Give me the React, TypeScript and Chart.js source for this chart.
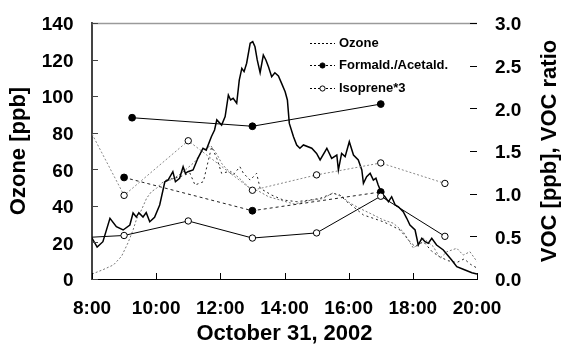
import React, { useEffect, useRef } from 'react';
import { Chart, registerables } from 'chart.js';

Chart.register(...registerables);

const FONT = '"Liberation Sans", Arial, Helvetica, sans-serif';

// ---- axis ticks / labels ----
const xTickHours = [8, 10, 12, 14, 16, 18, 20];
const xTickLabels = ['8:00', '10:00', '12:00', '14:00', '16:00', '18:00', '20:00'];
const xTitle = 'October 31, 2002';
const yLeftTitle = 'Ozone [ppb]';
const yRightTitle = 'VOC [ppb], VOC ratio';
const legendLabels = ['Ozone', 'Formald./Acetald.', 'Isoprene*3'];

// ---- high resolution ozone, solid line (ppb) ----
const ozoneSolidTimes = [8.00, 8.16, 8.34, 8.56, 8.76, 8.97, 9.18, 9.28, 9.38, 9.46, 9.59, 9.69, 9.80, 9.95, 10.11, 10.27, 10.37, 10.52, 10.60, 10.73, 10.84, 10.91, 10.99, 11.15, 11.30, 11.46, 11.56, 11.72, 11.82, 11.89, 12.04, 12.15, 12.25, 12.32, 12.40, 12.51, 12.59, 12.67, 12.74, 12.82, 12.93, 13.01, 13.08, 13.15, 13.24, 13.34, 13.42, 13.50, 13.60, 13.70, 13.81, 13.91, 14.02, 14.09, 14.15, 14.28, 14.38, 14.48, 14.59, 14.85, 15.00, 15.11, 15.32, 15.47, 15.63, 15.68, 15.78, 15.89, 16.02, 16.15, 16.30, 16.41, 16.46, 16.56, 16.67, 16.77, 16.85, 16.92, 17.03, 17.13, 17.24, 17.34, 17.45, 17.55, 17.70, 17.81, 17.91, 18.07, 18.17, 18.28, 18.38, 18.48, 18.59, 18.74, 18.95, 19.21, 19.37, 19.57, 19.84, 20.00];
const ozoneSolidValues = [22.4, 17.5, 20.4, 33.2, 28.6, 26.8, 29.5, 36.1, 33.9, 36.3, 33.9, 36.3, 31.3, 33.7, 40.5, 53.2, 54.1, 58.7, 53.2, 55.1, 61.4, 57.8, 58.7, 59.6, 66.0, 71.5, 70.5, 77.8, 81.5, 87.0, 84.2, 88.8, 100.6, 97.9, 98.8, 96.1, 108.8, 115.2, 113.4, 118.0, 128.9, 129.8, 127.0, 119.8, 112.8, 122.5, 119.8, 116.1, 110.6, 112.8, 111.0, 107.0, 102.4, 97.9, 85.1, 77.8, 73.3, 71.5, 73.3, 71.5, 68.7, 65.1, 71.5, 66.0, 67.8, 59.6, 68.7, 66.9, 75.1, 67.8, 65.1, 59.6, 52.3, 55.9, 57.8, 54.1, 55.1, 51.4, 46.9, 45.0, 42.3, 45.0, 40.5, 39.5, 36.8, 33.2, 29.5, 26.8, 18.6, 22.3, 20.4, 19.5, 22.3, 18.6, 15.9, 10.4, 6.7, 5.3, 3.4, 2.7];

// ---- high resolution ozone, dotted line (ppb) ----
const ozoneDotTimes = [8.0, 8.33, 8.67, 8.92, 9.12, 9.28, 9.38, 9.54, 9.70, 9.85, 10.01, 10.16, 10.32, 10.47, 10.8, 11.0, 11.2, 11.45, 11.7, 11.9, 12.05, 12.2, 12.4, 12.6, 12.9, 13.2, 13.5, 13.9, 14.3, 14.8, 15.2, 15.5, 15.8, 16.0, 16.3, 16.67, 17.08, 17.39, 17.70, 18.02, 18.33, 18.64, 18.85, 19.06, 19.37, 19.57, 19.78, 20.0];
const ozoneDotValues = [2.7, 5, 7.7, 12.4, 19.7, 26.8, 32.3, 37.7, 44.1, 47.7, 49.6, 52.3, 54.1, 54.1, 58, 61, 64, 70, 73, 68, 63, 60, 58, 55, 50, 48, 45, 43, 41, 43, 44, 47, 45, 42, 39, 35.9, 32.3, 30.5, 25.9, 16.8, 22.3, 17.7, 11.3, 14.9, 16.8, 13.1, 14.9, 9.5];

// ---- high resolution ozone, dashed line (ppb) ----
const ozoneDashTimes = [10.3, 10.74, 11.05, 11.21, 11.47, 11.63, 11.73, 11.89, 12.04, 12.25, 12.40, 12.61, 12.72, 12.93, 13.13, 13.24, 13.60, 13.96, 14.38, 14.80, 15.11, 15.52, 15.73, 15.94, 16.15, 16.46, 16.8, 17.08, 17.3, 17.6, 17.91, 18.07, 18.33, 18.6, 18.85, 19.1, 19.37, 19.6, 19.8, 20.0];
const ozoneDashValues = [54, 55.9, 58, 51.4, 53.2, 65.1, 72.3, 66.0, 57.8, 58.7, 56.9, 61.4, 57.8, 54.1, 57.8, 49.6, 45.9, 43.2, 42.3, 43.2, 44.1, 46.9, 45.9, 42.3, 39.5, 35, 33, 31.3, 29.5, 26.8, 20.4, 17.7, 20.4, 15, 12, 10, 9, 11, 8, 6];

// ---- VOC samples (right axis) ----
const formSolidTimes = [9.25, 13, 17];
const formSolidValues = [1.89, 1.79, 2.05];
const formDotTimes = [9, 13, 17];
const formDotValues = [1.19, 0.80, 1.02];
const isoDotTimes = [8, 9, 11, 13, 15, 17, 19];
const isoDotValues = [1.70, 0.98, 1.62, 1.04, 1.22, 1.36, 1.12];
const isoSolidTimes = [8, 9, 11, 13, 15, 17, 19];
const isoSolidValues = [0.49, 0.51, 0.68, 0.48, 0.54, 0.97, 0.50];

const pts = (t: number[], v: number[]) => t.map((x, i) => ({ x, y: v[i] }));
const firstHidden = (n: number, r: number) => Array.from({ length: n }, (_, i) => (i === 0 ? 0 : r));

type LegendSpec = { label: string; color: string; dash: number[]; marker: 'none' | 'filled' | 'open' };
const legendSpecs: LegendSpec[] = [
  { label: legendLabels[0], color: '#000', dash: [2, 2], marker: 'none' },
  { label: legendLabels[1], color: '#000', dash: [2, 2], marker: 'filled' },
  { label: legendLabels[2], color: '#000', dash: [2, 2], marker: 'open' },
];

const decorPlugin = {
  id: 'decor',
  afterDraw(chart: any) {
    const { ctx, chartArea: ca, scales } = chart;
    const line = (x1: number, y1: number, x2: number, y2: number) => {
      ctx.beginPath();
      ctx.moveTo(x1, y1);
      ctx.lineTo(x2, y2);
      ctx.stroke();
    };
    ctx.save();
    // top frame line
    ctx.strokeStyle = '#9a9a9a';
    ctx.lineWidth = 1.5;
    line(ca.left, ca.top + 0.5, ca.right, ca.top + 0.5);
    // x ticks (inward)
    ctx.strokeStyle = '#000';
    ctx.lineWidth = 1;
    xTickHours.forEach((h) => {
      const px = Math.round(scales.x.getPixelForValue(h)) + 0.5;
      line(px, ca.bottom, px, ca.bottom - 6);
    });
    // left ticks
    ctx.strokeStyle = '#444';
    scales.y.ticks.forEach((t: any) => {
      const py = Math.round(scales.y.getPixelForValue(t.value)) + 0.5;
      line(ca.left, py, ca.left + 6, py);
    });
    // right ticks
    ctx.strokeStyle = '#000';
    scales.y1.ticks.forEach((t: any) => {
      const py = Math.round(scales.y1.getPixelForValue(t.value)) + 0.5;
      line(ca.right - 7, py, ca.right, py);
    });
    // legend
    const lx0 = ca.left + 218;
    const lx1 = lx0 + 25;
    legendSpecs.forEach((s, i) => {
      const y = Math.round(ca.top + 20 + i * 22.3) + 0.5;
      ctx.strokeStyle = s.color;
      ctx.lineWidth = 1;
      ctx.setLineDash(s.dash);
      line(lx0, y, lx1, y);
      ctx.setLineDash([]);
      const cx = (lx0 + lx1) / 2;
      if (s.marker !== 'none') {
        ctx.beginPath();
        ctx.arc(cx, y, 2.6, 0, Math.PI * 2);
        ctx.fillStyle = s.marker === 'filled' ? '#000' : '#fff';
        ctx.fill();
        ctx.strokeStyle = '#000';
        ctx.stroke();
      }
      ctx.fillStyle = '#000';
      ctx.font = `bold 13px ${FONT}`;
      ctx.textAlign = 'left';
      ctx.textBaseline = 'middle';
      ctx.fillText(s.label, lx1 + 4, y);
    });
    // right axis title (reads bottom-to-top)
    ctx.save();
    ctx.translate(556, (ca.top + ca.bottom) / 2);
    ctx.rotate(-Math.PI / 2);
    ctx.font = `bold 22px ${FONT}`;
    ctx.fillStyle = '#000';
    ctx.textAlign = 'center';
    ctx.textBaseline = 'alphabetic';
    ctx.fillText(yRightTitle, 0, 0);
    ctx.restore();
    ctx.restore();
  },
};

export default function App() {
  const ref = useRef<HTMLCanvasElement>(null);

  useEffect(() => {
    if (!ref.current) return;
    const tickFont = { family: FONT, size: 19, weight: 'bold' as const };
    const markerBase = { pointBorderColor: '#000', pointBorderWidth: 1, pointHoverRadius: 0 };
    const chart = new Chart(ref.current, {
      type: 'line',
      data: {
        datasets: [
          {
            label: 'Formald./Acetald. (solid)',
            data: pts(formSolidTimes, formSolidValues),
            yAxisID: 'y1',
            borderColor: '#000',
            borderWidth: 1,
            pointRadius: 3.4,
            pointBackgroundColor: '#000',
            ...markerBase,
          },
          {
            label: 'Isoprene*3 (solid)',
            data: pts(isoSolidTimes, isoSolidValues),
            yAxisID: 'y1',
            borderColor: '#000',
            borderWidth: 1,
            pointRadius: firstHidden(isoSolidTimes.length, 3.2),
            pointBackgroundColor: '#fff',
            ...markerBase,
          },
          {
            label: legendLabels[1],
            data: pts(formDotTimes, formDotValues),
            yAxisID: 'y1',
            borderColor: '#222',
            borderWidth: 1,
            borderDash: [3, 3],
            pointRadius: 3.4,
            pointBackgroundColor: '#000',
            ...markerBase,
          },
          {
            label: legendLabels[2],
            data: pts(isoDotTimes, isoDotValues),
            yAxisID: 'y1',
            borderColor: '#888',
            borderWidth: 1,
            borderDash: [2, 2],
            pointRadius: firstHidden(isoDotTimes.length, 3.2),
            pointBackgroundColor: '#fff',
            ...markerBase,
          },
          {
            label: 'Ozone (solid)',
            data: pts(ozoneSolidTimes, ozoneSolidValues),
            yAxisID: 'y',
            borderColor: '#000',
            borderWidth: 1.5,
            pointRadius: 0,
          },
          {
            label: legendLabels[0],
            data: pts(ozoneDotTimes, ozoneDotValues),
            yAxisID: 'y',
            borderColor: '#777',
            borderWidth: 1,
            borderDash: [2, 2],
            pointRadius: 0,
          },
          {
            label: 'Ozone (dashed)',
            data: pts(ozoneDashTimes, ozoneDashValues),
            yAxisID: 'y',
            borderColor: '#222',
            borderWidth: 1,
            borderDash: [2, 3],
            pointRadius: 0,
          },
        ],
      },
      options: {
        animation: false,
        responsive: false,
        events: [],
        layout: { padding: { top: 23, left: 0, right: 0, bottom: 0 } },
        plugins: { legend: { display: false }, tooltip: { enabled: false }, title: { display: false } },
        scales: {
          x: {
            type: 'linear',
            position: 'bottom',
            min: 8,
            max: 20,
            afterBuildTicks: (scale: any) => {
              scale.ticks = xTickHours.map((v) => ({ value: v }));
            },
            afterFit: (scale: any) => {
              scale.height = 65;
              scale.paddingLeft = 0;
              scale.paddingRight = 0;
            },
            ticks: {
              autoSkip: false,
              maxRotation: 0,
              font: tickFont,
              color: '#000',
              padding: 18,
              callback: (v: any) => {
                const i = xTickHours.indexOf(Number(v));
                return i >= 0 ? xTickLabels[i] : '';
              },
            },
            grid: { display: false, drawTicks: false },
            border: { display: true, color: '#000', width: 1 },
            title: {
              display: true,
              text: xTitle,
              color: '#000',
              font: { family: FONT, size: 22, weight: 'bold', lineHeight: 0.88 },
              padding: { top: 0, bottom: 0 },
            },
          },
          y: {
            position: 'left',
            min: 0,
            max: 140,
            afterFit: (scale: any) => {
              scale.width = 92;
              scale.paddingTop = 0;
              scale.paddingBottom = 0;
            },
            ticks: { stepSize: 20, font: tickFont, color: '#000', padding: 18.5, labelOffset: 2 },
            grid: { display: false, drawTicks: false },
            border: { display: true, color: '#444', width: 2 },
            title: {
              display: true,
              text: yLeftTitle,
              color: '#000',
              font: { family: FONT, size: 22, weight: 'bold' },
              padding: { top: 6, bottom: 0 },
            },
          },
          y1: {
            position: 'right',
            min: 0,
            max: 3,
            afterFit: (scale: any) => {
              scale.width = 84;
              scale.paddingTop = 0;
              scale.paddingBottom = 0;
            },
            ticks: {
              stepSize: 0.5,
              font: tickFont,
              color: '#000',
              padding: 18,
              labelOffset: 2,
              callback: (v: any) => Number(v).toFixed(1),
            },
            grid: { display: false, drawTicks: false },
            border: { display: false },
            title: { display: false },
          },
        },
      },
      plugins: [decorPlugin],
    });
    return () => chart.destroy();
  }, []);

  return (
    <div style={{ position: 'absolute', left: 0, top: 0, width: 561, height: 344, background: '#fff' }}>
      <canvas ref={ref} width={561} height={344} style={{ display: 'block', width: 561, height: 344 }} />
    </div>
  );
}
